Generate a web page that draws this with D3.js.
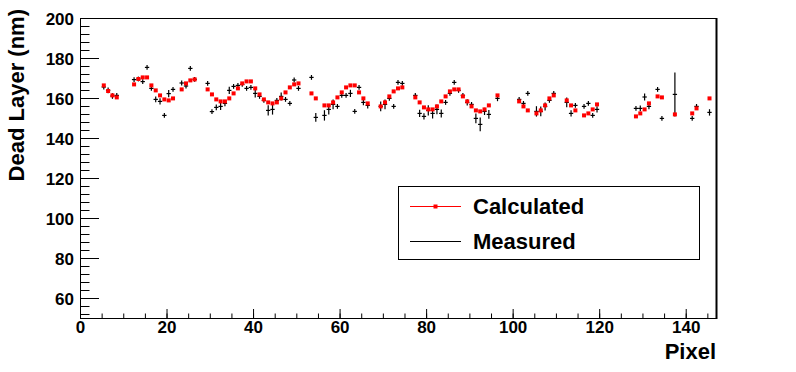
<!DOCTYPE html>
<meta charset="utf-8">
<style>
body { margin: 0; background: #fff; }
svg text { font-family: "Liberation Sans", Arial, sans-serif; font-weight: bold; fill: #000; }
.axis path { display: none; }
.axis line { stroke: #000; stroke-width: 1; }
</style>
<body>
<svg width="796" height="372"></svg>
<script src="https://cdn.jsdelivr.net/npm/d3@7"></script>
<script>

// Calculated dead layer (red squares), one value per pixel bin
var calcPixel = [5,6,7,8,12,13,14,15,16,17,18,19,20,21,23,24,25,26,29,30,31,32,33,34,35,36,37,38,39,40,41,42,43,44,45,46,47,48,49,50,
  53,54,56,57,58,59,60,61,62,63,64,65,66,69,70,71,72,73,74,77,78,79,80,81,82,83,84,85,86,87,88,89,90,91,92,93,94,96,
  101,102,103,105,106,107,108,109,112,113,114,116,117,118,119,128,129,130,131,133,134,137,141,142,145];
var calcValue = [166.3,163.5,161.3,160.3,166.8,169.5,170.3,170.3,166.3,163.8,161.3,159.3,158.8,159.8,164.3,167.3,168.8,169.3,
  164.3,161.8,159.3,158.3,158.3,159.8,162.3,164.8,167.3,168.3,168.3,164.8,161.8,159.3,157.8,157.3,157.8,159.8,162.8,165.3,166.8,167.3,
  162.3,159.8,156.3,156.3,157.8,160.3,162.8,165.3,166.3,166.3,162.8,159.8,157.3,155.8,157.8,160.8,163.3,164.8,165.3,
  160.3,157.8,155.3,154.3,154.3,155.8,158.3,160.8,163.3,164.3,164.3,160.8,158.3,155.8,153.8,153.3,154.3,156.3,161.3,
  158.3,155.8,153.8,152.3,153.8,156.3,159.8,161.3,158.8,156.3,153.8,151.3,152.3,154.3,156.8,
  150.8,152.3,154.3,157.3,160.8,160.3,151.8,152.3,154.8,159.8];

// Measured dead layer (black crosses with errors)
var measPixel = calcPixel.slice();
var measValue = [165.5,163.8,161.0,161.3,169.2,169.5,168.2,175.3,164.8,159.3,158.3,151.3,162.2,164.3,167.5,166.0,174.8,169.3,
  167.3,153.2,155.3,155.8,157.3,163.8,165.8,166.3,166.8,164.8,165.3,162.3,160.8,158.8,153.8,154.3,158.8,160.8,159.3,157.3,169.0,164.8,
  170.3,150.3,151.3,154.3,156.8,155.8,161.3,161.3,162.3,153.3,165.3,157.8,156.3,155.8,156.8,159.8,155.8,167.8,167.3,
  161.3,152.3,150.8,153.8,152.3,154.3,152.3,157.8,162.3,167.8,163.8,161.3,157.8,156.8,149.8,146.8,153.3,151.8,159.8,
  159.3,157.3,162.3,153.3,153.3,155.8,158.8,162.3,157.8,152.3,156.3,155.8,157.3,151.3,154.3,
  154.8,154.8,160.5,155.8,164.3,149.8,161.8,149.8,155.8,152.8];
var measError = [1.2,1.4,1.4,1.2,1.2,1.2,1.2,1.2,1.2,1.4,1.6,1.2,1.8,1.2,1.2,1.2,1.2,1.2,
  1.2,1.2,1.4,1.8,1.4,1.8,1.2,1.2,1.2,1.2,1.2,2.0,1.2,1.2,2.6,2.6,1.2,2.0,1.2,1.2,1.2,1.2,
  1.2,2.2,2.6,2.6,2.4,1.2,1.2,1.2,1.8,1.2,1.2,1.4,1.6,2.4,2.4,1.2,1.2,1.2,1.2,
  1.2,1.8,1.6,2.6,2.6,2.4,2.0,1.2,1.2,1.2,1.2,1.2,1.6,1.2,2.4,3.4,1.8,2.2,1.4,
  1.2,1.2,1.2,2.6,2.4,2.0,1.2,1.2,2.4,1.6,1.2,1.2,1.2,1.2,1.6,
  1.2,1.4,1.8,1.4,1.2,1.2,11,1.2,1.2,1.6];

var xTicks = [0,20,40,60,80,100,120,140];
var yTicks = [60,80,100,120,140,160,180,200];

var svg = d3.select("svg");
var frameLeft = 80, frameRight = 716, frameTop = 18, frameBottom = 318;

var x = d3.scaleLinear().domain([0,147]).range([frameLeft, frameRight]);
var y = d3.scaleLinear().domain([50,200]).range([frameBottom, frameTop]);

// bins span [p, p+1], marks sit at the bin centre
function binCenter(p) { return x(p + 0.5); }

// frame
svg.append("rect")
  .attr("x", frameLeft + 0.5).attr("y", frameTop + 0.5)
  .attr("width", frameRight - frameLeft).attr("height", frameBottom - frameTop)
  .attr("fill", "none").attr("stroke", "#000").attr("stroke-width", 1);
svg.append("line")
  .attr("x1", frameRight + 0.5).attr("x2", frameRight + 0.5).attr("y1", frameTop).attr("y2", frameBottom + 1)
  .attr("stroke", "#000").attr("stroke-width", 2);

// y axis minor + major
svg.append("g").attr("class", "axis")
  .attr("transform", "translate(" + frameLeft + ",0)")
  .call(d3.axisLeft(y).tickValues(d3.range(52, 201, 4)).tickSizeInner(-9.5).tickSizeOuter(0).tickFormat(""));
var yg = svg.append("g").attr("class", "axis")
  .attr("transform", "translate(" + frameLeft + ",0)")
  .call(d3.axisLeft(y).tickValues(yTicks).tickSizeInner(-19).tickSizeOuter(0));
yg.selectAll("text")
  .attr("x", -6).attr("dy", "0.36em")
  .style("font-size", "17px").style("font-family", "Liberation Sans").style("font-weight", "bold");

// x axis minor + major
svg.append("g").attr("class", "axis")
  .attr("transform", "translate(0," + frameBottom + ")")
  .call(d3.axisBottom(x).tickValues(d3.range(0, 147, 5)).tickSizeInner(-4.5).tickSizeOuter(0).tickFormat(""));
var xg = svg.append("g").attr("class", "axis")
  .attr("transform", "translate(0," + frameBottom + ")")
  .call(d3.axisBottom(x).tickValues(xTicks).tickSizeInner(-9).tickSizeOuter(0));
xg.selectAll("text")
  .attr("y", 15).attr("dy", 0)
  .style("font-size", "17px").style("font-family", "Liberation Sans").style("font-weight", "bold");

// axis titles
svg.append("text")
  .attr("transform", "translate(24,9) rotate(-90)")
  .attr("text-anchor", "end")
  .style("font-size", "22px")
  .text("Dead Layer (nm)");
svg.append("text")
  .attr("x", frameRight).attr("y", 359)
  .attr("text-anchor", "end")
  .style("font-size", "22px")
  .text("Pixel");

// measured crosses
var meas = measPixel.map(function(p, i) { return {p: p, v: measValue[i], e: measError[i]}; });
var cross = svg.append("g").attr("stroke", "#000").attr("stroke-width", 1.2);
cross.selectAll(".h").data(meas).enter().append("line")
  .attr("x1", function(d) { return x(d.p); })
  .attr("x2", function(d) { return x(d.p + 1); })
  .attr("y1", function(d) { return y(d.v); })
  .attr("y2", function(d) { return y(d.v); });
cross.selectAll(".v").data(meas).enter().append("line")
  .attr("x1", function(d) { return binCenter(d.p); })
  .attr("x2", function(d) { return binCenter(d.p); })
  .attr("y1", function(d) { return y(d.v - d.e); })
  .attr("y2", function(d) { return y(d.v + d.e); });

// calculated squares
svg.append("g").selectAll("rect").data(calcPixel).enter().append("rect")
  .attr("x", function(d) { return binCenter(d) - 2; })
  .attr("y", function(d, i) { return y(calcValue[i]) - 2; })
  .attr("width", 4).attr("height", 4)
  .attr("fill", "#ff0000");

// legend
var lg = svg.append("g");
lg.append("rect")
  .attr("x", 398.5).attr("y", 186.5).attr("width", 301).attr("height", 73)
  .attr("fill", "#fff").attr("stroke", "#000").attr("stroke-width", 1);
lg.append("line").attr("x1", 410).attr("x2", 461).attr("y1", 206.5).attr("y2", 206.5)
  .attr("stroke", "#ff0000").attr("stroke-width", 1);
lg.append("rect").attr("x", 433.5).attr("y", 204.5).attr("width", 4).attr("height", 4).attr("fill", "#ff0000");
lg.append("line").attr("x1", 410).attr("x2", 461).attr("y1", 241.5).attr("y2", 241.5)
  .attr("stroke", "#000").attr("stroke-width", 1);
lg.append("text").attr("x", 473).attr("y", 214).style("font-size", "22px").text("Calculated");
lg.append("text").attr("x", 473).attr("y", 249).style("font-size", "22px").text("Measured");

</script>
</body>
